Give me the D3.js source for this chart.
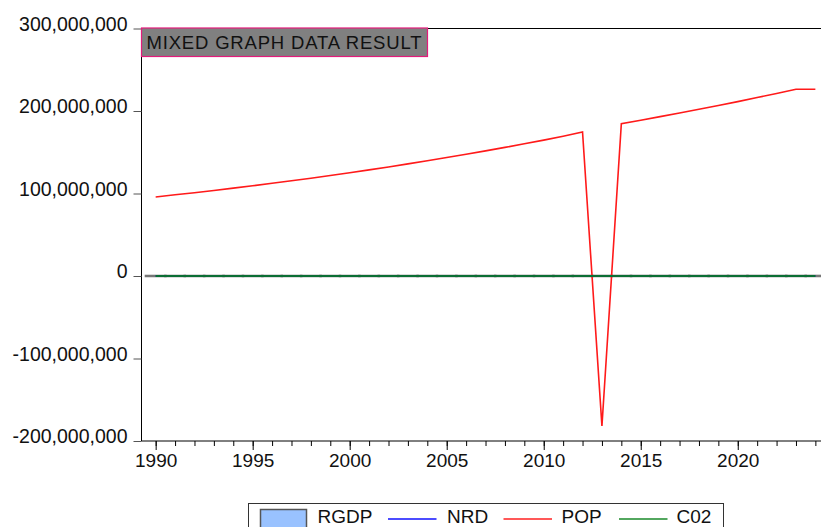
<!DOCTYPE html>
<html>
<head>
<meta charset="utf-8">
<script src="https://cdn.jsdelivr.net/npm/d3@7"></script>
<style>
body { margin: 0; background: #fff; }
text { font-family: "Liberation Sans", Arial, sans-serif; fill: #111; }
</style>
</head>
<body>
<div id="chart"></div>
<script>
// years 1990..2024
var years = [1990,1991,1992,1993,1994,1995,1996,1997,1998,1999,2000,2001,2002,2003,2004,2005,2006,2007,2008,2009,2010,2011,2012,2013,2014,2015,2016,2017,2018,2019,2020,2021,2022,2023,2024];
var pop = [95.8,98.4,101.0,103.7,106.5,109.4,112.4,115.4,118.5,121.8,125.2,128.6,132.2,135.9,139.7,143.6,147.6,151.7,155.9,160.2,164.7,169.5,174.5,-181.8,184.6,188.8,193.2,197.6,202.1,206.7,211.4,216.3,221.2,226.3,226.3].map(function(v){ return v*1e6 });
// the other series are tiny next to POP, they sit on the zero line
var rgdp = [19305,19199,19620,19928,19979,20354,21178,21789,22333,22450,23688,24849,28957,31710,35021,37475,39996,42923,46012,49856,54612,57511,59929,63218,67153,69024,67931,68490,69800,71387,70014,72394,74640,76135,78420];
var nrd = [14.2,15.1,13.8,12.6,11.9,12.4,13.9,13.1,9.2,10.8,15.6,12.9,11.4,13.2,15.8,16.4,14.9,13.7,15.2,10.1,11.6,13.4,11.8,9.7,8.9,5.4,3.8,5.1,6.3,5.7,3.9,5.6,6.8,6.1,5.9];
var c02 = [0.62,0.67,0.71,0.69,0.58,0.62,0.61,0.60,0.59,0.52,0.69,0.71,0.73,0.76,0.74,0.78,0.68,0.63,0.61,0.52,0.64,0.60,0.57,0.54,0.60,0.57,0.55,0.59,0.61,0.60,0.57,0.58,0.59,0.60,0.60];
var yTicks = [-200e6,-100e6,0,100e6,200e6,300e6];
var xTicks = [1990,1995,2000,2005,2010,2015,2020];
var legendItems = ["RGDP","NRD","POP","C02"];
var title = "MIXED GRAPH DATA RESULT";

var W = 821, H = 527;
var mLeft = 141.5, mRight = 821, mTop = 28.5, mBottom = 441;

var svg = d3.select("#chart").append("svg")
  .attr("width", W).attr("height", H);

var x = d3.scaleLinear().domain([1989.27, 2024.29]).range([mLeft, mRight]);
var y = d3.scaleLinear().domain([-200e6, 300e6]).range([mBottom, mTop]);
var fmt = function(v){ return d3.format(",")(v).replace("\u2212", "-") };

// frame: top line
svg.append("line").attr("x1", mLeft).attr("x2", mRight).attr("y1", mTop).attr("y2", mTop)
  .attr("stroke", "#000").attr("stroke-width", 1);

// y axis
var yAxis = svg.append("g").attr("transform", "translate(" + mLeft + ",0)")
  .call(d3.axisLeft(y).tickValues(yTicks).tickFormat(fmt).tickSize(8).tickPadding(6));
yAxis.select(".domain").attr("stroke", "#000").attr("d", "M0," + mTop + "V" + mBottom);
yAxis.selectAll(".tick line").attr("stroke", "#555");
yAxis.selectAll("text").style("font-size", "19.5px").attr("dy", "0.1em").attr("fill", "#111");

// x axis, minor ticks every year
svg.append("g").attr("transform", "translate(0," + mBottom + ")")
  .call(d3.axisBottom(x).tickValues(years).tickSize(5).tickFormat(""))
  .call(function(g){ g.select(".domain").remove(); g.selectAll(".tick line").attr("stroke", "#000"); });
var xAxis = svg.append("g").attr("transform", "translate(0," + mBottom + ")")
  .call(d3.axisBottom(x).tickValues(xTicks).tickSize(9).tickFormat(d3.format("d")).tickPadding(4));
xAxis.select(".domain").attr("stroke", "#000").attr("d", "M" + mLeft + ",0H" + mRight);
xAxis.selectAll("text").style("font-size", "19px").attr("fill", "#111");

// RGDP bars
var bw = x(1991) - x(1990);
svg.append("g").selectAll("rect").data(years).enter().append("rect")
  .attr("x", function(d){ return x(d) - bw/2 })
  .attr("width", bw)
  .attr("y", function(d,i){ return y(rgdp[i]) })
  .attr("height", function(d,i){ return y(0) - y(rgdp[i]) })
  .attr("fill", "#99c2ff").attr("stroke", "#777").attr("stroke-width", 2.5);

function drawLine(vals, color, w) {
  svg.append("path").datum(years)
    .attr("d", d3.line().x(function(d){ return x(d) }).y(function(d,i){ return y(vals[i]) }))
    .attr("fill", "none").attr("stroke", color).attr("stroke-width", w);
}
drawLine(nrd, "#0000e0", 1.5);
drawLine(pop, "#ff1a1a", 1.6);
drawLine(c02, "#0b6e34", 2);

// title box
var tb = svg.append("g");
tb.append("rect").attr("x", mLeft).attr("y", 28).attr("width", 286).attr("height", 28.5)
  .attr("fill", "#808080").attr("stroke", "#e31b7b").attr("stroke-width", 1.2);
tb.append("text").attr("x", 146.5).attr("y", 48.5).style("font-size", "18.5px")
  .attr("textLength", 275).attr("lengthAdjust", "spacing")
  .attr("fill", "#111").text(title);

// legend
var lg = svg.append("g");
lg.append("rect").attr("x", 248.5).attr("y", 503.5).attr("width", 475).attr("height", 30)
  .attr("fill", "#fff").attr("stroke", "#333").attr("stroke-width", 1);
lg.append("rect").attr("x", 260.5).attr("y", 509.5).attr("width", 46).attr("height", 25)
  .attr("fill", "#99c2ff").attr("stroke", "#555").attr("stroke-width", 1.5);
var lineItems = [{c:"#1010ff", x:388}, {c:"#ff2020", x:503.5}, {c:"#1a8a2a", x:619}];
lineItems.forEach(function(it){
  lg.append("line").attr("x1", it.x).attr("x2", it.x + 48.5).attr("y1", 519).attr("y2", 519)
    .style("stroke", it.c).style("stroke-width", "1.5px");
});
var labelX = [317.5, 447, 561.5, 676.5];
legendItems.forEach(function(t, i){
  lg.append("text").attr("x", labelX[i]).attr("y", 523).style("font-size", "19px")
    .attr("fill", "#111").text(t);
});
</script>
</body>
</html>
